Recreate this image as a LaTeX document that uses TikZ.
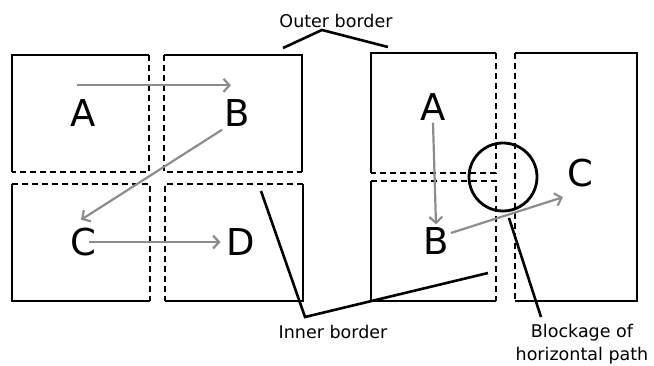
\documentclass[tikz,border=0pt]{standalone}
\usepackage{fontspec}
\setmainfont{DejaVu Sans}
\usetikzlibrary{arrows.meta}
\tikzstyle{wall} = [line width=2.8pt, black]
\tikzstyle{gate} = [line width=2.8pt, black, dash pattern=on 6pt off 4pt]
\tikzstyle{flow} = [line width=2.2pt, draw=black!45, -{Straight Barb[length=6pt,width=13pt]}]
\tikzstyle{callout} = [line width=2.6pt, black]
\tikzstyle{room} = [inner sep=0pt, font=\fontsize{37}{37}\selectfont]
\tikzstyle{caption} = [inner sep=0pt, align=center, font=\fontsize{17.5}{23}\selectfont]

\begin{document}
\begin{tikzpicture}[x=1pt, y=-1pt]
  \useasboundingbox (0,0) rectangle (654,365);

  % left group: four cells
  \draw[wall] (12,172) -- (12,55) -- (149,55);
  \draw[gate] (149,55) -- (149,172) -- (12,172);
  \draw[wall] (164,55) -- (302,55) -- (302,172);
  \draw[gate] (164,55) -- (164,172) -- (302,172);
  \draw[wall] (12,184) -- (12,301) -- (150,301);
  \draw[gate] (12,184) -- (150,184) -- (150,301);
  \draw[wall] (303,184) -- (303,301) -- (165,301);
  \draw[gate] (303,184) -- (165,184) -- (165,301);

  % right group: two small cells and a tall one
  \draw[wall] (371,173) -- (371,53) -- (496,53);
  \draw[gate] (496,53) -- (496,173) -- (371,173);
  \draw[wall] (371,181) -- (371,301) -- (496,301);
  \draw[gate] (371,181) -- (496,181) -- (496,301);
  \draw[wall] (515,53) -- (637,53) -- (637,301) -- (515,301);
  \draw[gate] (515,53) -- (515,301);
  \draw[wall] (503,177) circle (34);

  % cell letters
  \node[room] (lA) at (83,113) {A};
  \node[room] (lB) at (237,113) {B};
  \node[room] (lC) at (83,242) {C};
  \node[room] (lD) at (241,242) {D};
  \node[room] (rA) at (433,107) {A};
  \node[room] (rB) at (436,241) {B};
  \node[room] (rC) at (580,173) {C};

  % paths
  \draw[flow] ([xshift=-6pt,yshift=14pt]lA.north) -- ([xshift=-6pt,yshift=14pt]lB.north);
  \draw[flow] ([xshift=-2pt,yshift=-3pt]lB.south west) -- ([xshift=-2pt,yshift=8pt]lC.north);
  \draw[flow] ([xshift=6pt]lC.center) -- ([xshift=-6pt]lD.west);
  \draw[flow] ([yshift=-2pt]rA.south) -- ([yshift=3pt]rB.north);
  \draw[flow] ([xshift=2pt,yshift=8pt]rB.east) -- ([xshift=-4pt,yshift=-10pt]rC.south west);

  % callouts
  \node[caption] (outer) at (336,21) {Outer border};
  \node[caption] (inner) at (333,332) {Inner border};
  \node[caption] (block) at (582,344) {Blockage of\\horizontal path};
  \coordinate (outerL) at (283,48);
  \coordinate (outerR) at (388,47);
  \coordinate (innerT) at (261,191);
  \coordinate (innerK) at (305,317);
  \coordinate (innerR) at (488,273);
  \coordinate (blockT) at (509,218);
  \coordinate (blockB) at (541,317);
  \draw[callout] (outerL) -- ([xshift=-14pt,yshift=-2pt]outer.south) -- (outerR);
  \draw[callout] (innerT) -- (innerK) -- (innerR);
  \draw[callout] (blockT) -- (blockB);
\end{tikzpicture}
\end{document}
